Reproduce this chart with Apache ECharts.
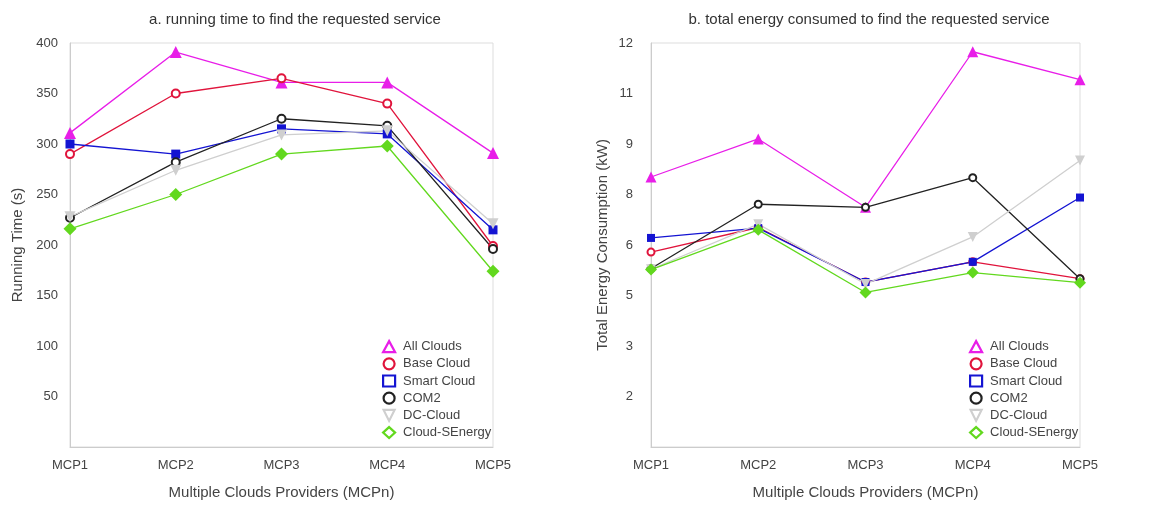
<!DOCTYPE html>
<html><head><meta charset="utf-8">
<script src="https://cdn.jsdelivr.net/npm/echarts@6/dist/echarts.min.js"></script>
<style>html,body{margin:0;padding:0;background:#fff}#c{width:1151px;height:505px}</style>
</head><body><div id="c"></div>
<script>
const categories = ['MCP1','MCP2','MCP3','MCP4','MCP5'];
const seriesNames = ['All Clouds','Base Cloud','Smart Cloud','COM2','DC-Cloud','Cloud-SEnergy'];
// a. running time (s)
const timeAll   = [311, 391, 361, 361, 291];
const timeBase  = [290, 350, 365, 340, 199];
const timeSmart = [300, 290, 315, 310, 215];
const timeCOM2  = [227, 282, 325, 318, 196];
const timeDC    = [228, 274, 309, 313, 221];
const timeSE    = [216, 250, 290, 298, 174];
// b. energy (kW)
const enAll   = [8.02, 9.15, 7.12, 11.74, 10.91];
const enBase  = [5.79, 6.52, 4.90, 5.50, 5.00];
const enSmart = [6.21, 6.50, 4.90, 5.50, 7.41];
const enCOM2  = [5.30, 7.21, 7.12, 8.00, 5.00];
const enDC    = [5.28, 6.62, 4.84, 6.24, 8.51];
const enSE    = [5.27, 6.45, 4.59, 5.18, 4.88];

const colors = ['#e81ee8','#e0143c','#1414d2','#222222','#cfcfcf','#62d81e'];
const symbols = ['triangle','emptyCircle','rect','emptyCircle','path://M0,0 L10,0 L5,10 Z','diamond'];
const legendIcons = ['triangle','circle','rect','circle','path://M0,0 L10,0 L5,10 Z','diamond'];
const symSizesA = [12, 8, 9, 8, 11, 13];
const symSizesB = [11, 7, 8, 7, 10, 12];

const timeData = [timeAll,timeBase,timeSmart,timeCOM2,timeDC,timeSE];
const enData = [enAll,enBase,enSmart,enCOM2,enDC,enSE];

const FONT = 'Liberation Sans';
const txt = {color:'#444', fontFamily:FONT, fontSize:13};

function mkSeries(dataArr, idx, sizes){
  return seriesNames.map((n,i)=>({
    name:n, type:'line', xAxisIndex:idx, yAxisIndex:idx,
    data:dataArr[i], symbol:symbols[i], symbolSize:sizes[i],
    showAllSymbol:true,
    lineStyle:{color:colors[i], width:1.3},
    itemStyle:{color:colors[i], borderColor:colors[i], borderWidth: (symbols[i]==='emptyCircle')?2:0},
    emphasis:{disabled:true}, animation:false
  }));
}
function mkLegend(left){
  return {
    orient:'vertical', left:left, top:335, itemWidth:12, itemHeight:11, itemGap:4,
    textStyle:{color:'#444', fontFamily:FONT, fontSize:13, padding:[0,0,0,3]},
    selectedMode:false,
    data:seriesNames.map((n,i)=>({name:n, icon:legendIcons[i],
      itemStyle:{color:'#fff', borderColor:colors[i], borderWidth:2.2}}))
  };
}
const xAxisBase = (gi)=>({
  type:'category', gridIndex:gi, data:categories, boundaryGap:false,
  axisLine:{show:true, lineStyle:{color:'#cccccc'}}, axisTick:{show:false},
  axisLabel:Object.assign({margin:12}, txt),
  name:'Multiple Clouds Providers (MCPn)', nameLocation:'middle', nameGap:38,
  nameTextStyle:{color:'#444', fontFamily:FONT, fontSize:15}
});

const chart = echarts.init(document.getElementById('c'));
chart.setOption({
  animation:false,
  color:colors,
  title:[
    {text:'a. running time to find the requested service', left:290, top:7, textAlign:'center',
     textStyle:{color:'#333', fontFamily:FONT, fontSize:15, fontWeight:'normal'}},
    {text:'b. total energy consumed to find the requested service', left:864, top:7, textAlign:'center',
     textStyle:{color:'#333', fontFamily:FONT, fontSize:15, fontWeight:'normal'}}
  ],
  grid:[
    {left:70, right:658, top:43, bottom:54, show:true, borderColor:'#dddddd', borderWidth:1},
    {left:651, right:71, top:43, bottom:54, show:true, borderColor:'#dddddd', borderWidth:1}
  ],
  legend:[mkLegend(377), mkLegend(964)],
  xAxis:[xAxisBase(0), xAxisBase(1)],
  yAxis:[
    {type:'value', gridIndex:0, min:0, max:400, interval:50,
     axisLine:{show:true, lineStyle:{color:'#cccccc'}}, axisTick:{show:false}, splitLine:{show:false},
     axisLabel:Object.assign({margin:12, formatter:v=>v===0?'':String(v)}, txt),
     name:'Running Time (s)', nameLocation:'middle', nameGap:45,
     nameTextStyle:{color:'#444', fontFamily:FONT, fontSize:15}},
    {type:'value', gridIndex:1, min:0, max:12, interval:1.5,
     axisLine:{show:true, lineStyle:{color:'#cccccc'}}, axisTick:{show:false}, splitLine:{show:false},
     axisLabel:Object.assign({margin:18, formatter:v=>v===0?'':String(Math.round(v))}, txt),
     name:'Total Energy Consumption (kW)', nameLocation:'middle', nameGap:41,
     nameTextStyle:{color:'#444', fontFamily:FONT, fontSize:15}}
  ],
  series:[...mkSeries(timeData,0,symSizesA), ...mkSeries(enData,1,symSizesB)]
});
</script></body></html>
